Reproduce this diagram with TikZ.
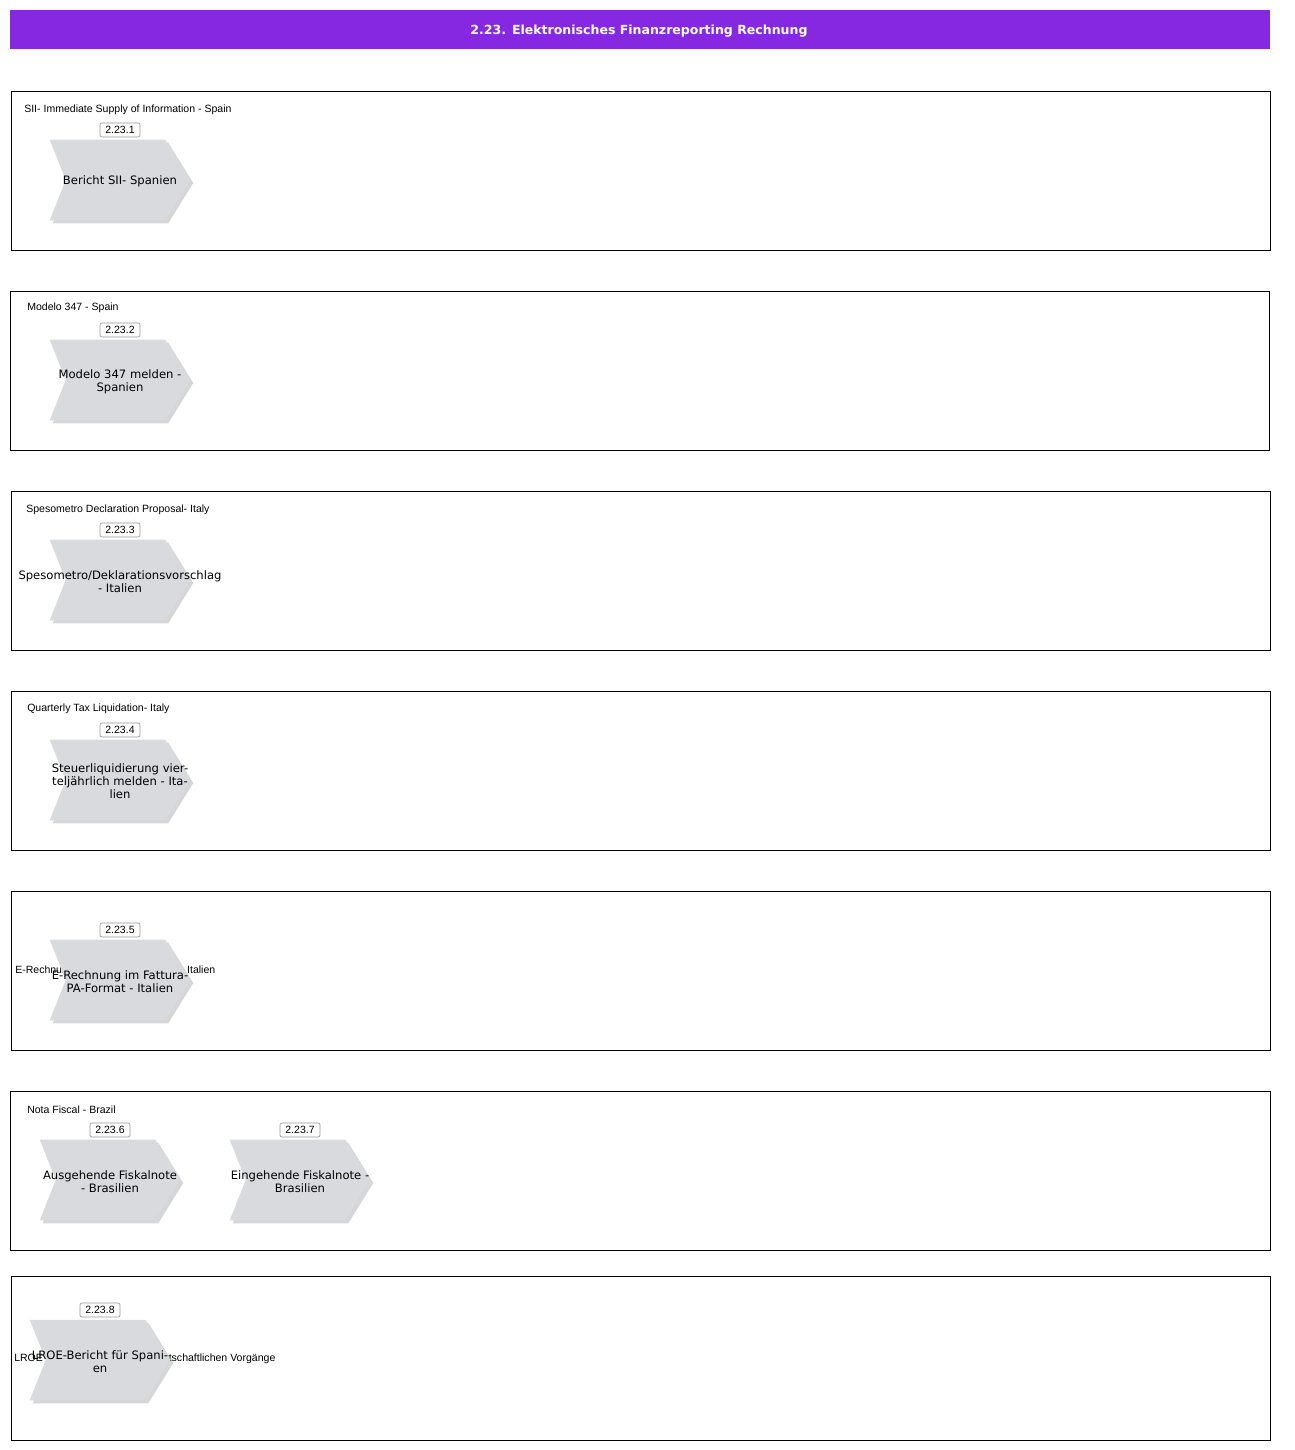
\documentclass[tikz,border=0pt]{standalone}
\usepackage{fontspec}
\setmainfont{Liberation Sans}
\newfontfamily\chevfont{DejaVu Sans}
\usetikzlibrary{shadows}
\definecolor{titlepurple}{RGB}{134,40,226}
\definecolor{chevgray}{RGB}{217,218,221}
\definecolor{numgray}{RGB}{150,150,150}

\begin{document}
\begin{tikzpicture}[x=0.75pt,y=-0.75pt,
    chevron/.style={shape=rectangle,draw=none,minimum width=105pt,minimum height=60pt,inner sep=0pt},
    chevfill/.style={fill=chevgray,drop shadow={shadow xshift=2.25pt,shadow yshift=-2.25pt,fill=black!32}},
    chevtext/.style={font=\chevfont\fontsize{8.7}{9.75}\selectfont,align=center,inner sep=0pt,yshift=-1.2pt},
    numbox/.style={draw=numgray,fill=white,rounded corners=1.5pt,line width=0.5pt,
      font=\fontsize{7.9}{9}\selectfont,inner sep=0pt,minimum width=30pt,minimum height=10.5pt},
    grouplabel/.style={font=\fontsize{7.9}{9}\selectfont,anchor=west,inner sep=0pt},
    groupframe/.style={draw=black,line width=0.75pt}]
                \useasboundingbox (0,0) rectangle (1295,1450);

                \node[fill=titlepurple,minimum width=945pt,minimum height=29.25pt] (titel) at (640,29.5) {};
                \node[text=white,font=\chevfont\bfseries\fontsize{9.4}{11}\selectfont] (titeltxt) at (639,31) {2.23. Elektronisches Finanzreporting Rechnung};

                \draw[groupframe] (11,91) rectangle (1270,250);
                \draw[groupframe] (10,291) rectangle (1269,450);
                \draw[groupframe] (11,491) rectangle (1270,650);
                \draw[groupframe] (11,691) rectangle (1270,850);
                \draw[groupframe] (11,891) rectangle (1270,1050);
                \draw[groupframe] (10,1091) rectangle (1270,1250);
                \draw[groupframe] (11,1276) rectangle (1270,1440);

                \node[grouplabel] (gsii) at (24,110) {SII- Immediate Supply of Information - Spain};
                \node[grouplabel] (gmod) at (27,308) {Modelo 347 - Spain};
                \node[grouplabel] (gspes) at (26,510) {Spesometro Declaration Proposal- Italy};
                \node[grouplabel] (gstq) at (27,709) {Quarterly Tax Liquidation- Italy};
                \node[grouplabel] (gerech) at (15,971) {E-Rechnung im Fattura-PA-Format - Italien};
                \node[grouplabel] (gnota) at (27,1110) {Nota Fiscal - Brazil};
                \node[grouplabel] (glroe) at (14,1359) {LROE - Buchungsregister der wirtschaftlichen Vorgänge};

                \node[numbox] (nsii) at (120,130) {2.23.1};
                \node[numbox] (nmod) at (120,330) {2.23.2};
                \node[numbox] (nspes) at (120,530) {2.23.3};
                \node[numbox] (nstq) at (120,730) {2.23.4};
                \node[numbox] (nerech) at (120,930) {2.23.5};
                \node[numbox] (nausfis) at (110,1130) {2.23.6};
                \node[numbox] (neinfis) at (300,1130) {2.23.7};
                \node[numbox] (nlroe) at (100,1310) {2.23.8};

                \node[chevron] (sii) at (120,180) {};
                \node[chevron] (mod) at (120,380) {};
                \node[chevron] (spes) at (120,580) {};
                \node[chevron] (stq) at (120,780) {};
                \node[chevron] (erech) at (120,980) {};
                \node[chevron] (ausfis) at (110,1180) {};
                \node[chevron] (einfis) at (300,1180) {};
                \node[chevron] (lroe) at (100,1360) {};

                % chevron bodies with notch on the left and point on the right
                \foreach \s in {sii,mod,spes,stq,erech,ausfis,einfis,lroe}
                    \fill[chevfill] (\s.north west) -- ([xshift=-18.75pt]\s.north east) -- (\s.east)
                        -- ([xshift=-18.75pt]\s.south east) -- (\s.south west) -- ([xshift=12pt]\s.west) -- cycle;

                \node[chevtext] (siitxt) at (sii) {Bericht SII- Spanien};
                \node[chevtext] (modtxt) at (mod) {Modelo 347 melden -\\Spanien};
                \node[chevtext] (spestxt) at (spes) {Spesometro/Deklarationsvorschlag\\- Italien};
                \node[chevtext] (stqtxt) at (stq) {Steuerliquidierung vier-\\teljährlich melden - Ita-\\lien};
                \node[chevtext] (erechtxt) at (erech) {E-Rechnung im Fattura-\\PA-Format - Italien};
                \node[chevtext] (ausfistxt) at (ausfis) {Ausgehende Fiskalnote\\- Brasilien};
                \node[chevtext] (einfistxt) at (einfis) {Eingehende Fiskalnote -\\Brasilien};
                \node[chevtext] (lroetxt) at (lroe) {LROE-Bericht für Spani-\\en};
\end{tikzpicture}
\end{document}
